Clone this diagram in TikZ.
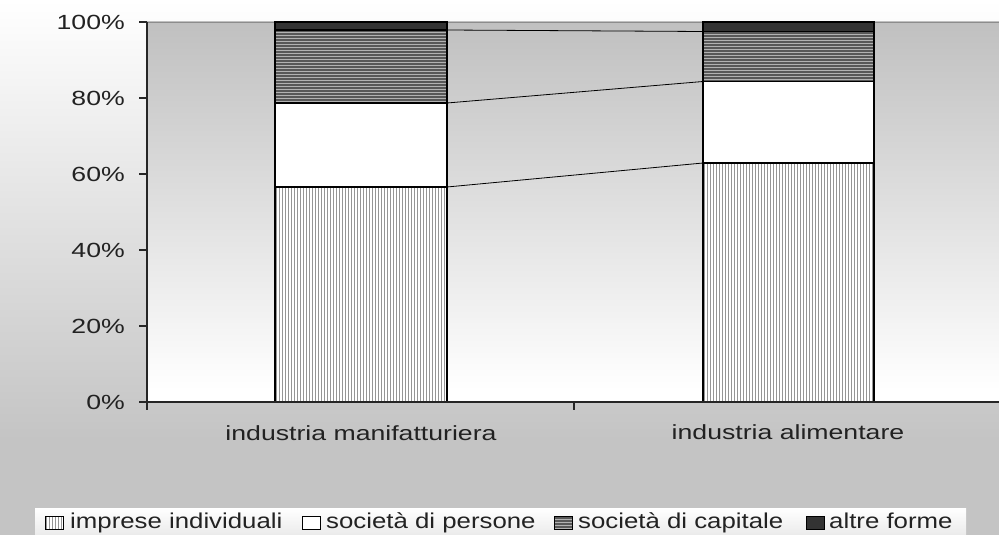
\documentclass[tikz,border=0pt]{standalone}
\usepackage{fontspec}
\newfontfamily\chartfont[FakeStretch=1.3]{Liberation Sans}
\newfontfamily\legfont[FakeStretch=1.2]{Liberation Sans}
\definecolor{bggray}{HTML}{C4C4C4}
\definecolor{plotgray}{HTML}{C0C0C0}
\definecolor{txt}{HTML}{222222}
\definecolor{stripeA}{HTML}{959595}
\definecolor{stripeB}{HTML}{B2B2B2}
\definecolor{capfill}{HTML}{585858}
\definecolor{darkseg}{HTML}{333333}
\begin{document}
\begin{tikzpicture}[x=1pt,y=-1pt,
  lbl/.style={font=\chartfont\fontsize{20.5}{24}\selectfont, text=txt, inner sep=0pt},
  leglbl/.style={font=\legfont\fontsize{21.5}{24}\selectfont, text=txt, inner sep=0pt},
  seg/.style={draw=black, line width=1.1pt, inner sep=0pt, outer sep=0pt, minimum width=172pt, anchor=south west},
  vstripes/.style={fill=white, path picture={\foreach \k in {0,3,...,180}{\draw[line width=1.4pt, draw=stripeA] ([xshift=\k pt+1.5pt]path picture bounding box.south west) -- ([xshift=\k pt+1.5pt]path picture bounding box.north west);}}},
  hstripes/.style={fill=capfill, path picture={\foreach \k in {0,3,...,80}{\draw[line width=1pt, draw=stripeB] ([yshift=\k pt+1.5pt]path picture bounding box.south west) -- ([yshift=\k pt+1.5pt]path picture bounding box.south east);}}},
  whiteseg/.style={fill=white},
  darkfill/.style={fill=darkseg},
  legsym/.style={draw=black, line width=0.9pt, inner sep=0pt, outer sep=0pt, minimum width=18pt, minimum height=13pt, anchor=west},
  series/.style={draw=black, line width=0.8pt},
  axis/.style={draw=black!85, line width=1.1pt}
]
\useasboundingbox (0,0) rectangle (999,535);
% outer background
\shade[top color=white, bottom color=bggray] (0,0) rectangle (999,440);
\fill[bggray] (0,439.5) rectangle (999,535);
% plot area
\shade[top color=plotgray, bottom color=white] (147,22) rectangle (999,390);
\fill[white] (147,389.5) rectangle (999,402);
\draw[draw=black!45, line width=1pt] (147,22.5) -- (999,22.5);

% bar 1
\node[seg, vstripes, minimum height=215pt] (b1i) at (275,402) {};
\node[seg, whiteseg, minimum height=84pt] (b1p) at (b1i.north west) {};
\node[seg, hstripes, minimum height=73pt] (b1c) at (b1p.north west) {};
\node[seg, darkfill, minimum height=8pt] (b1a) at (b1c.north west) {};
% bar 2
\node[seg, vstripes, minimum height=239pt, minimum width=171pt] (b2i) at (703,402) {};
\node[seg, whiteseg, minimum height=81.5pt, minimum width=171pt] (b2p) at (b2i.north west) {};
\node[seg, hstripes, minimum height=50pt, minimum width=171pt] (b2c) at (b2p.north west) {};
\node[seg, darkfill, minimum height=9.5pt, minimum width=171pt] (b2a) at (b2c.north west) {};

% series lines
\draw[series] (b1i.north east) -- (b2i.north west);
\draw[series] (b1p.north east) -- (b2p.north west);
\draw[series] (b1c.north east) -- (b2c.north west);

% axes
\coordinate (o) at (147,402);
\coordinate (top) at (147,22);
\coordinate (xr) at (999,402);
\draw[axis] (top) -- (o) -- (xr);
\foreach \y in {22,98,174,250,326,402} \draw[axis] (139,\y) -- (147,\y);
\foreach \x in {147,574} \draw[axis] (\x,402) -- (\x,410);

% y labels
\node[lbl, anchor=base east] (y100) at (125,29.5) {100\%};
\node[lbl, anchor=base east] (y80) at (125,105.5) {80\%};
\node[lbl, anchor=base east] (y60) at (125,181.5) {60\%};
\node[lbl, anchor=base east] (y40) at (125,257.5) {40\%};
\node[lbl, anchor=base east] (y20) at (125,333.5) {20\%};
\node[lbl, anchor=base east] (y0) at (125,409.5) {0\%};

% category labels
\node[lbl, anchor=base] (c1) at (361,440) {industria manifatturiera};
\node[lbl, anchor=base] (c2) at (788,439) {industria alimentare};

% legend
\shade[top color=white, bottom color=black!8] (35,508) rectangle (966,535);
\node[legsym, vstripes] (s1) at (45,523) {};
\node[leglbl, anchor=base west] (t1) at (70,528) {imprese individuali};
\node[legsym, whiteseg] (s2) at (302,523) {};
\node[leglbl, anchor=base west] (t2) at (326,528) {società di persone};
\node[legsym, hstripes] (s3) at (554,523) {};
\node[leglbl, anchor=base west] (t3) at (578,528) {società di capitale};
\node[legsym, darkfill] (s4) at (806,523) {};
\node[leglbl, anchor=base west] (t4) at (829,528) {altre forme};
\end{tikzpicture}
\end{document}
